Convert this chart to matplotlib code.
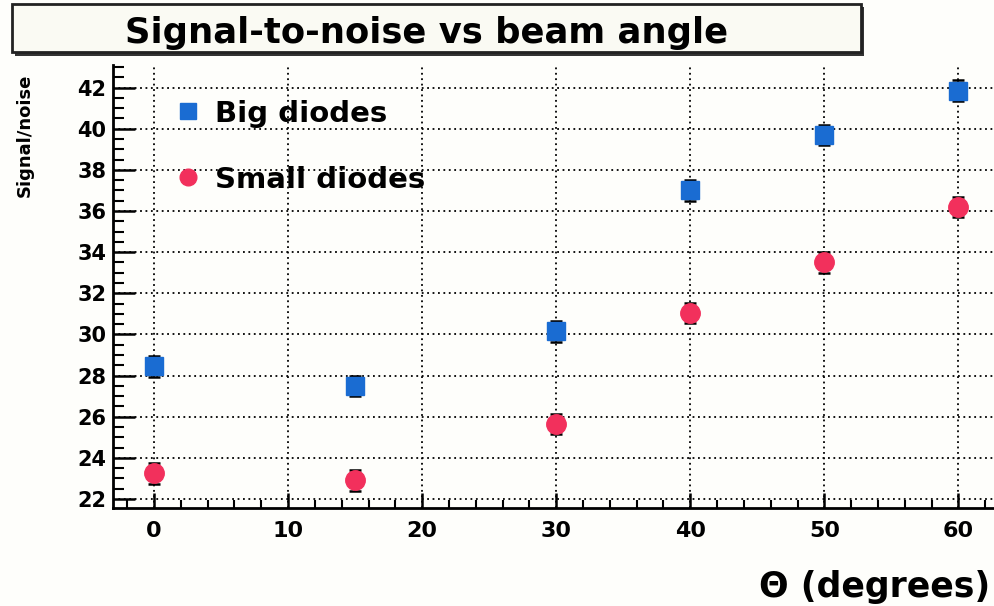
import matplotlib.pyplot as plt
from matplotlib.patches import Rectangle
from matplotlib.lines import Line2D
from matplotlib.ticker import MultipleLocator

plt.rcParams['font.family'] = ['DejaVu Sans']
plt.rcParams['font.weight'] = 'bold'

# data
angles = [0, 15, 30, 40, 50, 60]
big_sn = [28.45, 27.5, 30.15, 37.0, 39.7, 41.85]
small_sn = [23.25, 22.9, 25.65, 31.05, 33.5, 36.2]
big_err = [0.5, 0.5, 0.5, 0.5, 0.5, 0.5]
small_err = [0.5, 0.5, 0.5, 0.5, 0.5, 0.5]

blue = '#1a6cd2'
red = '#f2305c'

fig = plt.figure(figsize=(9.95, 6.06), dpi=100)
fig.patch.set_facecolor('#fefefb')
ax = fig.add_axes([0.1136, 0.1617, 0.886, 0.731])
ax.set_facecolor('none')

ax.errorbar(angles, big_sn, yerr=big_err, fmt='s', color=blue, ms=13,
            ecolor='black', elinewidth=1.2, capsize=4.5, capthick=1.8, zorder=3)
ax.errorbar(angles, small_sn, yerr=small_err, fmt='o', color=red, ms=14,
            ecolor='black', elinewidth=1.2, capsize=4.5, capthick=1.8, zorder=3)

ax.set_xlim(-3.06, 62.7)
ax.set_ylim(21.56, 43.1)

ax.xaxis.set_major_locator(MultipleLocator(10))
ax.xaxis.set_minor_locator(MultipleLocator(2))
ax.yaxis.set_major_locator(MultipleLocator(2))
ax.yaxis.set_minor_locator(MultipleLocator(0.5))

for s in ['top', 'right']:
    ax.spines[s].set_visible(False)
for s in ['left', 'bottom']:
    ax.spines[s].set_linewidth(2)

ax.tick_params(axis='y', which='major', direction='in', length=16, width=1.8,
               labelsize=15, pad=5)
ax.tick_params(axis='y', which='minor', direction='in', length=8, width=1.5)
ax.tick_params(axis='x', which='major', direction='in', length=11, width=1.8,
               labelsize=16, pad=9)
ax.tick_params(axis='x', which='minor', direction='in', length=6, width=1.5)

ax.grid(True, which='major', linestyle=(0, (1, 2)), color='black', linewidth=1.3)

handles = [Line2D([], [], ls='none', marker='s', color=blue, ms=11),
           Line2D([], [], ls='none', marker='o', color=red, ms=12)]
ax.legend(handles, ['Big diodes', 'Small diodes'], loc='upper left',
          bbox_to_anchor=(0.045, 0.968), frameon=False, fontsize=21,
          labelspacing=1.3, handletextpad=0.42, handlelength=1.0,
          borderpad=0.2)

fig.text(0.025, 0.777, 'Signal/noise', rotation=90, ha='center', va='center',
         fontsize=13)
fig.text(0.995, 0.032, '\u0398 (degrees)', ha='right', va='center', fontsize=25)

# title box with shadow
fig.patches.append(Rectangle((0.015, 0.908), 0.853, 0.08, transform=fig.transFigure,
                             facecolor='#333333', edgecolor='none', zorder=1))
fig.patches.append(Rectangle((0.012, 0.914), 0.853, 0.08, transform=fig.transFigure,
                             facecolor='#fafaf3', edgecolor='#222222', linewidth=2, zorder=2))
fig.text(0.429, 0.945, 'Signal-to-noise vs beam angle', ha='center', va='center',
         fontsize=25.5, zorder=3)

fig.savefig('out.png', dpi=100, facecolor=fig.get_facecolor())
